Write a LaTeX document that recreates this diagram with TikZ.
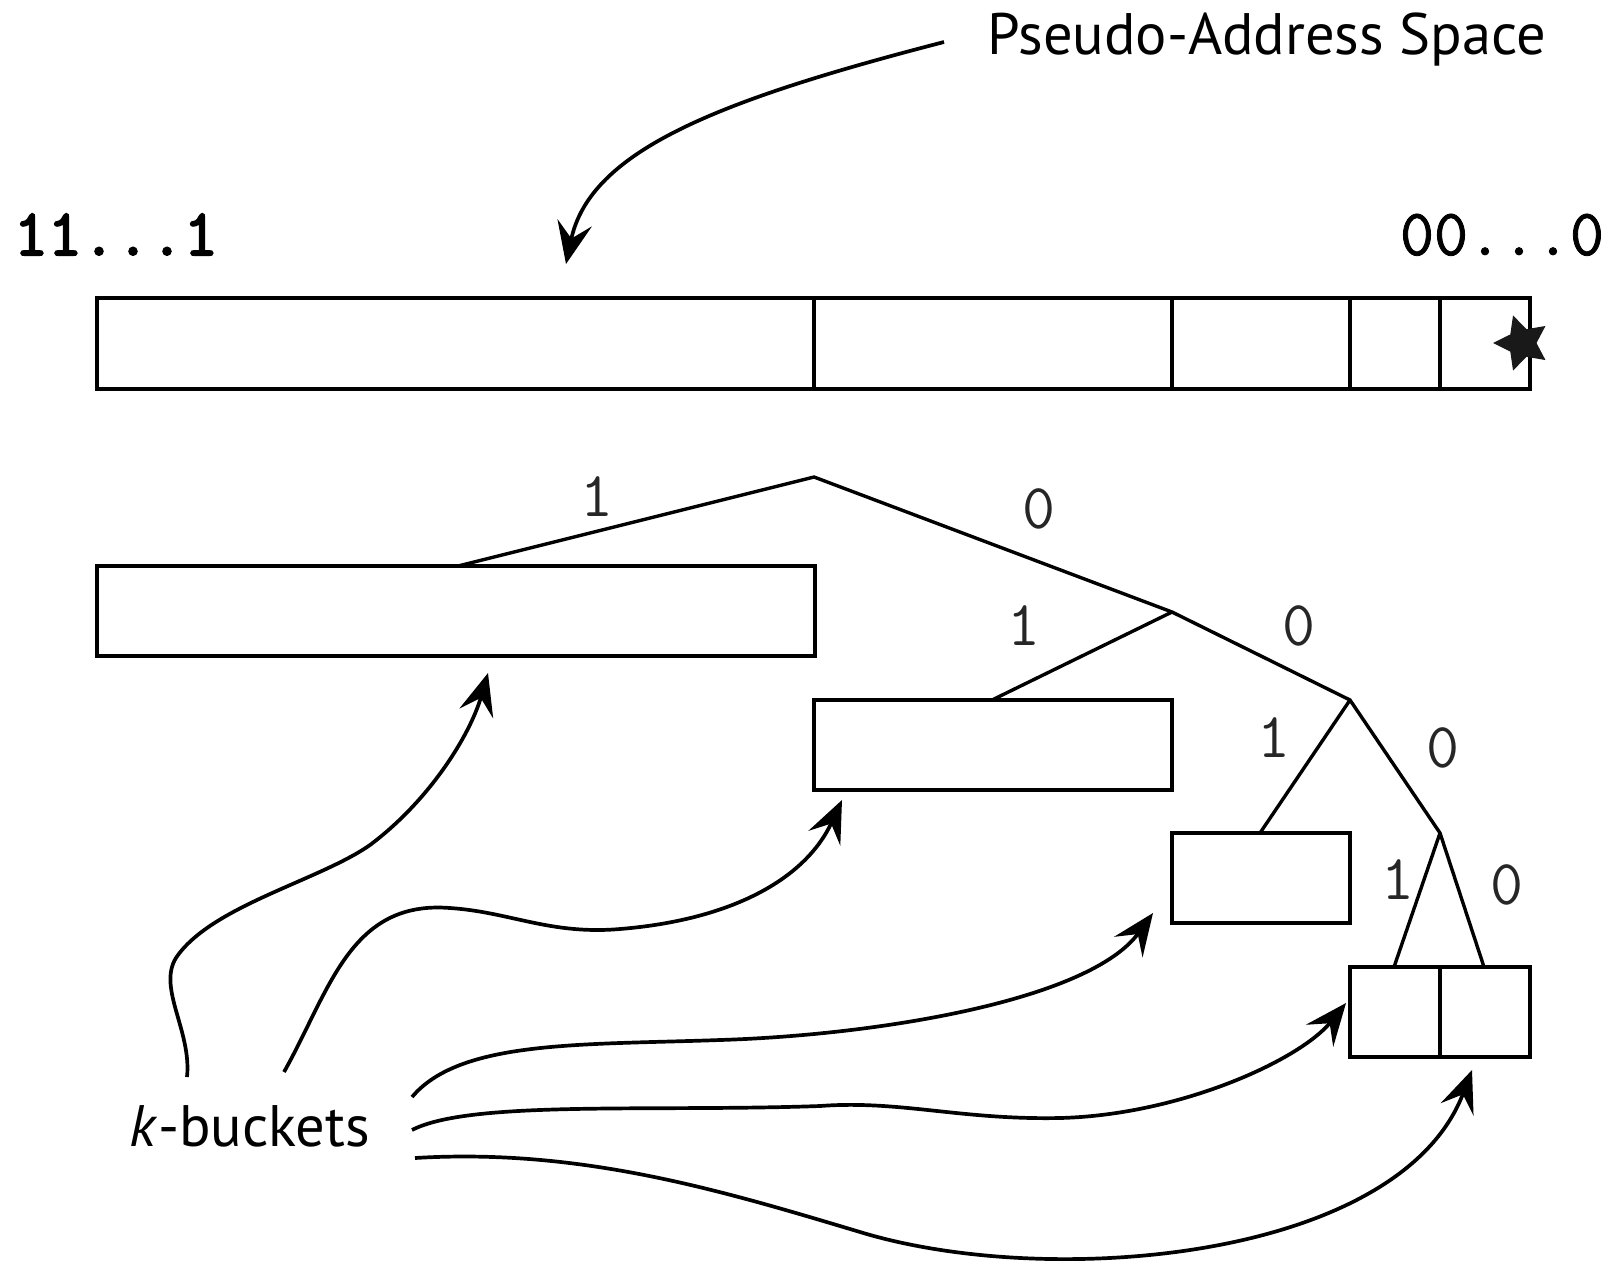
\documentclass[tikz,border=0pt]{standalone}
\usepackage{fontspec}
\setmainfont{PT Sans}
\newfontfamily\boldmono{Latin Modern Mono}[FakeBold=3]
\newfontfamily\medmono{Latin Modern Mono}[FakeBold=1.2]
\usetikzlibrary{arrows.meta,shapes.geometric}
\begin{document}
\begin{tikzpicture}[x=1pt,y=-1pt,
  bx/.style={draw, line width=4.5pt, rectangle, inner sep=0pt, minimum height=90pt},
  edge/.style={line width=3.4pt},
  arr/.style={line width=3.7pt, -{Stealth[length=42pt,width=35pt,inset=16pt]}},
  bit/.style={font=\ttfamily\fontsize{64}{66}\selectfont, inner sep=0pt, text=black!85},
  lab/.style={font=\fontsize{58.5}{60}\selectfont, inner sep=0pt, anchor=base}]
\useasboundingbox (0,0) rectangle (1617,1262);

% title and address labels
\node[lab] (pas) at (1267,54) {Pseudo-Address Space};
\node[font=\boldmono\fontsize{66}{68}\selectfont, inner sep=0pt, anchor=base] (hi) at (116,255) {11...1};
\node[font=\medmono\fontsize{66}{68}\selectfont, inner sep=0pt, anchor=base] (lo) at (1502,255) {00...0};

% address space bar
\node[bx, minimum width=717pt, minimum height=91pt] (s1) at (455.5,343.5) {};
\node[bx, minimum width=358pt, minimum height=91pt] (s2) at (993,343.5) {};
\node[bx, minimum width=178pt, minimum height=91pt] (s3) at (1261,343.5) {};
\node[bx, minimum width=90pt, minimum height=91pt] (s4) at (1395,343.5) {};
\node[bx, minimum width=90pt, minimum height=91pt] (s5) at (1485,343.5) {};
\node[star, star points=5, star point ratio=2.0, fill=black!90, draw=none, minimum size=58pt, inner sep=0pt, shape border rotate=90] (st) at (1522,343) {};

% buckets
\node[bx, minimum width=718pt] (b1) at (456,611) {};
\node[bx, minimum width=358pt] (b2) at (993,745) {};
\node[bx, minimum width=178pt] (b3) at (1261,878) {};
\node[bx, minimum width=90pt] (b4a) at (1395,1012) {};
\node[bx, minimum width=90pt] (b4b) at (1485,1012) {};

% tree
\coordinate (root) at (814,477);
\coordinate (n2) at (1172,612);
\coordinate (n3) at (1350,700);
\coordinate (n4) at (1440,833);
\coordinate (a1) at (458,566);
\coordinate (a2) at (992,700);
\coordinate (a3) at (1260,833);
\coordinate (a4a) at (1394,967);
\coordinate (a4b) at (1484,967);
\draw[edge] (a1) -- (root) -- (n2) -- (n3) -- (n4) -- (a4b);
\draw[edge] (n2) -- (a2);
\draw[edge] (n3) -- (a3);
\draw[edge] (n4) -- (a4a);

\node[bit] (l1) at (597,497) {1};
\node[bit] (l2) at (1039,509) {0};
\node[bit] (l3) at (1024,626) {1};
\node[bit] (l4) at (1299,626) {0};
\node[bit] (l5) at (1274,738) {1};
\node[bit] (l6) at (1443,748) {0};
\node[bit] (l7) at (1398,880) {1};
\node[bit] (l8) at (1507,885) {0};

% k-buckets label
\node[lab] (kb) at (250,1146) {\textit{k}-buckets};

% arrows
\coordinate (pstart) at (944,42);
\coordinate (pend) at (566,264);
\draw[arr] (pstart) .. controls (720,100) and (590,150) .. (pend);

\coordinate (k1) at (187,1077);
\coordinate (t1) at (488,673);
\draw[arr] (k1) .. controls (192,1030) and (155,985) .. (178,955)
  .. controls (215,905) and (320,880) .. (370,845)
  .. controls (430,800) and (470,735) .. (t1);

\coordinate (k2) at (284,1072);
\coordinate (t2) at (842,800);
\draw[arr] (k2) .. controls (330,990) and (350,900) .. (450,908)
  .. controls (510,912) and (550,935) .. (620,929)
  .. controls (730,920) and (805,880) .. (t2);

\coordinate (k3) at (412,1097);
\coordinate (t3) at (1153,913);
\draw[arr] (k3) .. controls (460,1040) and (580,1045) .. (720,1040)
  .. controls (880,1035) and (1090,1000) .. (t3);

\coordinate (k4) at (412,1130);
\coordinate (t4) at (1346,1003);
\draw[arr] (k4) .. controls (470,1100) and (650,1112) .. (820,1106)
  .. controls (900,1100) and (960,1120) .. (1060,1118)
  .. controls (1180,1115) and (1300,1060) .. (t4);

\coordinate (k5) at (415,1158);
\coordinate (t5) at (1472,1070);
\draw[arr] (k5) .. controls (580,1148) and (720,1190) .. (860,1232)
  .. controls (1050,1290) and (1400,1260) .. (t5);
\end{tikzpicture}
\end{document}
